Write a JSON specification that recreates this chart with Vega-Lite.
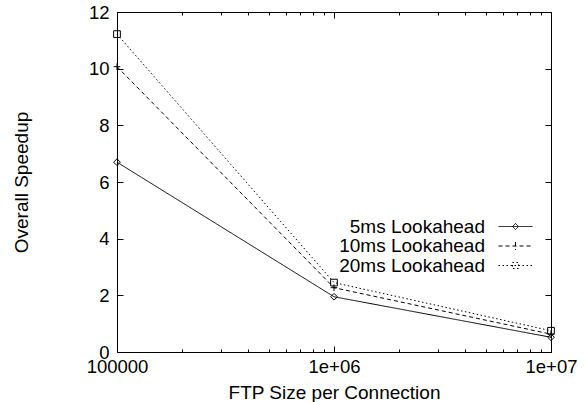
{
  "$schema": "https://vega.github.io/schema/vega-lite/v6.json",
  "width": 434,
  "height": 340,
  "autosize": {"type": "none"},
  "padding": {"left": 117, "top": 12, "right": 34, "bottom": 50},
  "background": "white",
  "config": {
    "view": {"stroke": "black", "strokeWidth": 1},
    "font": "Liberation Sans",
    "axis": {
      "domain": false, "grid": false, "tickColor": "black", "tickWidth": 1,
      "labelColor": "black", "titleColor": "black",
      "labelFont": "Liberation Sans", "titleFont": "Liberation Sans",
      "labelFontSize": 18.5, "titleFontSize": 19, "titleFontWeight": "normal"
    }
  },
  "data": {
    "values": [
      {"series": "5ms Lookahead", "size": 100000, "speedup": 6.7},
      {"series": "5ms Lookahead", "size": 1000000, "speedup": 1.95},
      {"series": "5ms Lookahead", "size": 10000000, "speedup": 0.52},
      {"series": "10ms Lookahead", "size": 100000, "speedup": 10.07},
      {"series": "10ms Lookahead", "size": 1000000, "speedup": 2.27},
      {"series": "10ms Lookahead", "size": 10000000, "speedup": 0.63},
      {"series": "20ms Lookahead", "size": 100000, "speedup": 11.22},
      {"series": "20ms Lookahead", "size": 1000000, "speedup": 2.45},
      {"series": "20ms Lookahead", "size": 10000000, "speedup": 0.75}
    ]
  },
  "resolve": {"axis": {"x": "independent", "y": "independent"}},
  "layer": [
    {
      "mark": {"type": "line", "color": "black", "strokeWidth": 1},
      "encoding": {
        "x": {
          "field": "size", "type": "quantitative",
          "scale": {"type": "log", "domain": [100000, 10000000], "nice": false},
          "axis": {
            "orient": "bottom", "values": [100000, 1000000, 10000000],
            "labelExpr": "datum.value == 100000 ? '100000' : (datum.value == 1000000 ? '1e+06' : '1e+07')",
            "tickSize": -6, "labelPadding": 11, "labelFlush": false, "labelOverlap": false,
            "title": "FTP Size per Connection", "titlePadding": 8
          }
        },
        "y": {
          "field": "speedup", "type": "quantitative",
          "scale": {"domain": [0, 12], "nice": false},
          "axis": {
            "orient": "left", "values": [0, 2, 4, 6, 8, 10, 12],
            "tickSize": -6, "labelPadding": 14,
            "title": "Overall Speedup", "titlePadding": 57
          }
        },
        "strokeDash": {
          "field": "series", "type": "nominal",
          "scale": {"domain": ["5ms Lookahead", "10ms Lookahead", "20ms Lookahead"], "range": [[1, 0], [4, 3], [1.5, 2.5]]},
          "legend": {
            "orient": "none", "legendX": 389, "legendY": 205, "title": null,
            "symbolType": "stroke", "symbolSize": 100, "symbolStrokeWidth": 1,
            "symbolStrokeColor": "black", "labelFontSize": 19, "labelFont": "Liberation Sans",
            "labelColor": "black", "labelAlign": "right", "labelOffset": -40,
            "rowPadding": 0, "padding": 0,
            "encode": {
              "labels": {
                "update": {"dy": {"signal": "-2.5 * datum.index"}}
              },
              "symbols": {
                "update": {
                  "shape": {"signal": "datum.value == '5ms Lookahead' ? 'M-3.4,0H3.4M0,-0.6L0.6,0L0,0.6L-0.6,0Z' : (datum.value == '10ms Lookahead' ? 'M-3.4,-0.5H3.4M0,-1.3V0.3' : 'M-3.4,-1H3.4M-0.6,-1.6H0.6V-0.4H-0.6Z')"}
                }
              }
            }
          }
        }
      }
    },
    {
      "transform": [{"filter": "datum.series == '5ms Lookahead'"}],
      "mark": {"type": "point", "shape": "diamond", "color": "black", "filled": false, "strokeWidth": 1, "opacity": 1, "size": 45},
      "encoding": {
        "x": {
          "field": "size", "type": "quantitative",
          "scale": {"type": "log", "domain": [100000, 10000000], "nice": false},
          "axis": {"orient": "top", "values": [100000, 1000000, 10000000], "labels": false, "tickSize": -6, "title": null}
        },
        "y": {
          "field": "speedup", "type": "quantitative",
          "scale": {"domain": [0, 12], "nice": false},
          "axis": {"orient": "right", "values": [0, 2, 4, 6, 8, 10, 12], "labels": false, "tickSize": -6, "title": null}
        }
      }
    },
    {
      "transform": [{"filter": "datum.series == '10ms Lookahead'"}],
      "mark": {"type": "point", "shape": "M-1,0H1M0,-1V1", "color": "black", "filled": false, "strokeWidth": 1, "opacity": 1, "size": 45},
      "encoding": {
        "x": {
          "field": "size", "type": "quantitative",
          "scale": {"type": "log", "domain": [100000, 10000000], "nice": false},
          "axis": {"orient": "bottom", "values": [200000, 300000, 400000, 500000, 600000, 700000, 800000, 900000, 2000000, 3000000, 4000000, 5000000, 6000000, 7000000, 8000000, 9000000], "labels": false, "tickSize": -3, "title": null}
        },
        "y": {"field": "speedup", "type": "quantitative", "scale": {"domain": [0, 12], "nice": false}, "axis": null}
      }
    },
    {
      "transform": [{"filter": "datum.series == '20ms Lookahead'"}],
      "mark": {"type": "point", "shape": "square", "color": "black", "filled": false, "strokeWidth": 1, "opacity": 1, "size": 45},
      "encoding": {
        "x": {
          "field": "size", "type": "quantitative",
          "scale": {"type": "log", "domain": [100000, 10000000], "nice": false},
          "axis": {"orient": "top", "values": [200000, 300000, 400000, 500000, 600000, 700000, 800000, 900000, 2000000, 3000000, 4000000, 5000000, 6000000, 7000000, 8000000, 9000000], "labels": false, "tickSize": -3, "title": null}
        },
        "y": {"field": "speedup", "type": "quantitative", "scale": {"domain": [0, 12], "nice": false}, "axis": null}
      }
    }
  ]
}
